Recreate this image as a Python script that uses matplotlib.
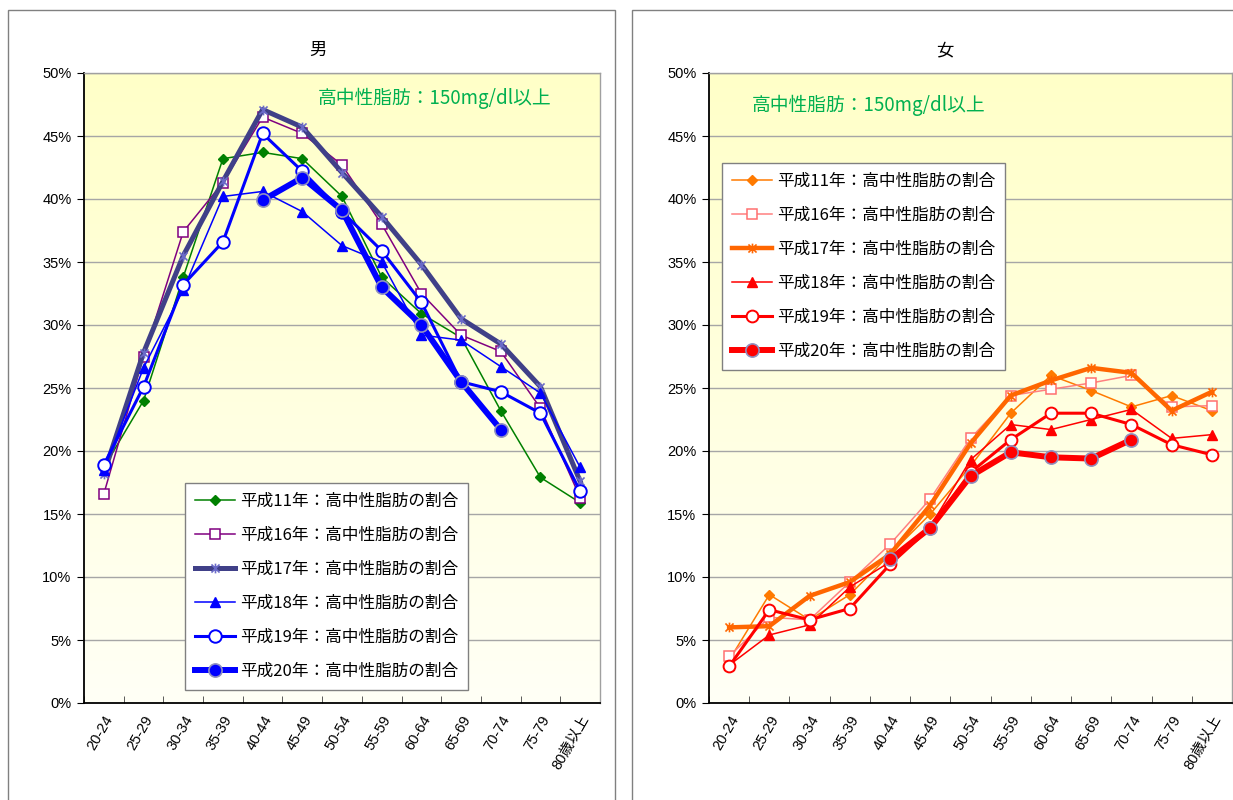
import numpy as np
import matplotlib
matplotlib.use('Agg')
import matplotlib.pyplot as plt
from matplotlib.path import Path
from matplotlib.patches import Rectangle
from matplotlib.colors import LinearSegmentedColormap
from matplotlib.ticker import PercentFormatter, FixedLocator

nan = np.nan

categories = ['20-24', '25-29', '30-34', '35-39', '40-44', '45-49', '50-54',
              '55-59', '60-64', '65-69', '70-74', '75-79', '80歳以上']

series_labels = ['平成11年：高中性脂肪の割合', '平成16年：高中性脂肪の割合',
                 '平成17年：高中性脂肪の割合', '平成18年：高中性脂肪の割合',
                 '平成19年：高中性脂肪の割合', '平成20年：高中性脂肪の割合']

panel_titles = ['男', '女']
note_text = '高中性脂肪：150mg/dl以上'

# 男 (%)
male_h11 = [18.7, 24.0, 33.8, 43.2, 43.7, 43.2, 40.2, 33.8, 30.9, 29.0, 23.2, 17.9, 15.9]
male_h16 = [16.6, 27.5, 37.4, 41.3, 46.5, 45.2, 42.7, 38.0, 32.5, 29.2, 27.9, 23.4, 16.3]
male_h17 = [18.2, 27.8, 35.5, 41.4, 47.1, 45.7, 42.1, 38.6, 34.8, 30.5, 28.5, 25.1, 17.6]
male_h18 = [18.5, 26.6, 32.8, 40.2, 40.6, 39.0, 36.3, 35.0, 29.2, 28.8, 26.7, 24.6, 18.7]
male_h19 = [18.9, 25.1, 33.2, 36.6, 45.2, 42.2, 39.0, 35.9, 31.8, 25.5, 24.7, 23.0, 16.8]
male_h20 = [nan, nan, nan, nan, 39.9, 41.7, 39.1, 33.0, 30.0, 25.5, 21.7, nan, nan]

# 女 (%)
female_h11 = [3.4, 8.6, 6.6, 8.6, 11.8, 15.0, 18.8, 23.0, 26.0, 24.8, 23.5, 24.4, 23.2]
female_h16 = [3.7, 6.8, 6.6, 9.6, 12.6, 16.2, 21.0, 24.4, 24.9, 25.4, 26.0, 23.5, 23.6]
female_h17 = [6.0, 6.1, 8.5, 9.6, 11.8, 15.7, 20.6, 24.4, 25.6, 26.6, 26.2, 23.2, 24.7]
female_h18 = [3.0, 5.4, 6.2, 9.2, 11.2, 14.0, 19.3, 22.1, 21.7, 22.5, 23.3, 21.0, 21.3]
female_h19 = [2.9, 7.4, 6.6, 7.5, 11.0, 13.9, 18.3, 20.9, 23.0, 23.0, 22.1, 20.5, 19.7]
female_h20 = [nan, nan, nan, nan, 11.4, 13.9, 18.0, 19.9, 19.5, 19.4, 20.9, nan, nan]

male_data = [male_h11, male_h16, male_h17, male_h18, male_h19, male_h20]
female_data = [female_h11, female_h16, female_h17, female_h18, female_h19, female_h20]

CJK = ['Noto Sans CJK JP', 'DejaVu Sans']
NUM = ['Liberation Sans', 'Noto Sans CJK JP', 'DejaVu Sans']
plt.rcParams['font.family'] = CJK

star = Path([(-1, -1), (1, 1), (-1, 1), (1, -1), (0, -1.2), (0, 1.2)],
            [Path.MOVETO, Path.LINETO, Path.MOVETO, Path.LINETO, Path.MOVETO, Path.LINETO])

male_styles = [
    dict(color='#008000', lw=1.1, marker='D', ms=5, mfc='#008000', mec='#008000', mew=1),
    dict(color='#800080', lw=1.1, marker='s', ms=6.5, mfc='white', mec='#800080', mew=1.1),
    dict(color='#404088', lw=3.6, marker=star, ms=7, mfc='none', mec='#6A6AC8', mew=1.2),
    dict(color='#0000FF', lw=1.1, marker='^', ms=7.5, mfc='#0000FF', mec='#0000FF', mew=1),
    dict(color='#0000FF', lw=2.2, marker='o', ms=9, mfc='white', mec='#0000FF', mew=1.4),
    dict(color='#0000FF', lw=4.3, marker='o', ms=9.5, mfc='#0000FF', mec='#9090C0', mew=1.2),
]
female_styles = [
    dict(color='#FF7A00', lw=1.1, marker='D', ms=5, mfc='#FF7A00', mec='#FF7A00', mew=1),
    dict(color='#FF8080', lw=1.1, marker='s', ms=6.5, mfc='white', mec='#FF7070', mew=1.1),
    dict(color='#FF6600', lw=3.2, marker=star, ms=7, mfc='none', mec='#FF6600', mew=1.2),
    dict(color='#FF0000', lw=1.1, marker='^', ms=7.5, mfc='#FF0000', mec='#FF0000', mew=1),
    dict(color='#FF0000', lw=2.2, marker='o', ms=8.5, mfc='white', mec='#FF0000', mew=1.4),
    dict(color='#FF0000', lw=4.3, marker='o', ms=9.5, mfc='#FF0000', mec='#9090C0', mew=1.2),
]

W, H = 1233, 800
fig = plt.figure(figsize=(W / 100, H / 100), dpi=100)
fig.patch.set_facecolor('white')

# panel frames
fig.patches.append(Rectangle((8 / W, -0.05), (615 - 8) / W, 1.05 - 10 / H,
                             transform=fig.transFigure, fill=False, ec='#808080', lw=1))
fig.patches.append(Rectangle((632 / W, -0.05), 0.6, 1.05 - 10 / H,
                             transform=fig.transFigure, fill=False, ec='#808080', lw=1))

cmap = LinearSegmentedColormap.from_list('bg', ['#FFFFF6', '#FFFFC8'])
grad = np.linspace(0, 1, 256).reshape(-1, 1)


def make_panel(rect, data, styles, title, title_x, note_xy, leg_anchor):
    ax = fig.add_axes(rect)
    x = np.arange(len(categories))
    ax.imshow(grad, cmap=cmap, origin='lower', aspect='auto',
              extent=[-0.5, len(categories) - 0.5, 0, 50], zorder=0)
    ax.set_xlim(-0.5, len(categories) - 0.5)
    ax.set_ylim(0, 50)
    ax.set_yticks(np.arange(0, 51, 5))
    ax.yaxis.set_major_formatter(PercentFormatter(decimals=0))
    for yv in np.arange(5, 51, 5):
        ax.axhline(yv, color='#A6A6A6', lw=1, zorder=1)
    handles = []
    for vals, st, lab in zip(data, styles, series_labels):
        h, = ax.plot(x, vals, label=lab, zorder=3, **st)
        handles.append(h)
    ax.set_xticks(x)
    ax.set_xticklabels(categories, rotation=60, ha='right', va='top',
                       rotation_mode='anchor', fontsize=10.5, family=NUM)
    ax.xaxis.set_minor_locator(FixedLocator(np.arange(-0.5, len(categories), 1)))
    ax.tick_params(axis='x', which='major', length=0, pad=7)
    ax.tick_params(axis='x', which='minor', direction='in', length=5, color='#404040')
    ax.tick_params(axis='y', which='major', direction='out', length=5, labelsize=10.5, pad=4)
    for lbl in ax.get_yticklabels():
        lbl.set_family(NUM)
    for s in ['left', 'bottom']:
        ax.spines[s].set_color('black')
        ax.spines[s].set_linewidth(1.3)
    for s in ['top', 'right']:
        ax.spines[s].set_color('#A0A0A0')
        ax.spines[s].set_linewidth(1)
    fig.text(title_x, 1 - 50 / H, title, ha='center', va='center', fontsize=12.5)
    fig.text(note_xy[0], note_xy[1], note_text, ha='left', va='center',
             fontsize=13.5, color='#00B050')
    leg = ax.legend(handles=handles, loc='lower left', bbox_to_anchor=leg_anchor,
                    fontsize=12, handlelength=2.4, handletextpad=0.3, labelspacing=1.02,
                    borderpad=0.6, borderaxespad=0, fancybox=False, framealpha=1,
                    edgecolor='#808080')
    leg.get_frame().set_linewidth(1)
    leg.set_zorder(5)
    return ax


make_panel([84 / W, 97 / H, (600 - 84) / W, 630 / H], male_data, male_styles,
           panel_titles[0], 318 / W, (318 / W, 1 - 98 / H), (0.196, 0.021))
make_panel([709 / W, 97 / H, (1232 - 709) / W, 630 / H], female_data, female_styles,
           panel_titles[1], 945 / W, (752 / W, 1 - 105 / H), (0.025, 0.529))

fig.savefig('out.png', dpi=100)
